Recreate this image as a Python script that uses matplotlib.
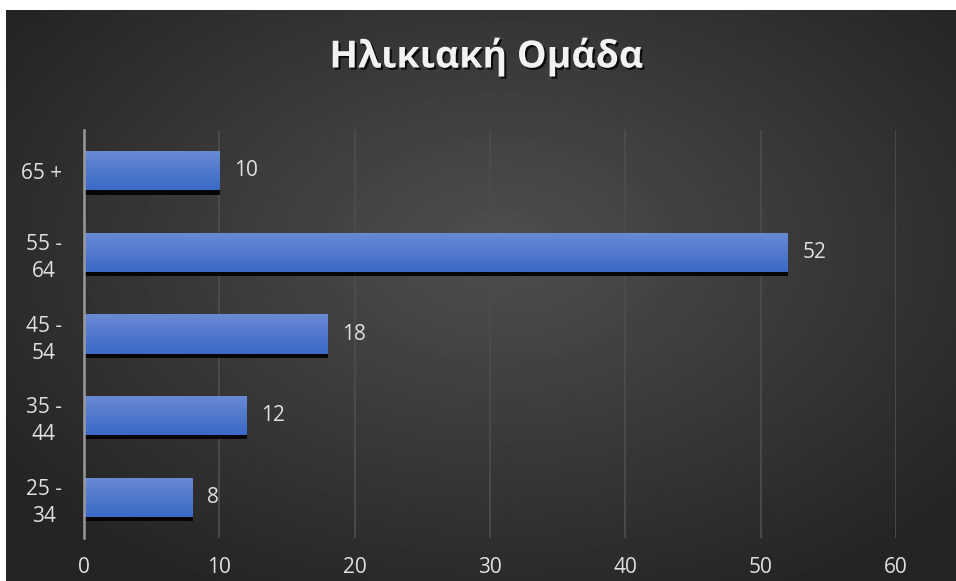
import numpy as np
import matplotlib.pyplot as plt
import matplotlib.patheffects as pe

categories = ['25 -\n34', '35 -\n44', '45 -\n54', '55 -\n64', '65 +']
values = [8, 12, 18, 52, 10]
xticks = [0, 10, 20, 30, 40, 50, 60]

plt.rcParams['font.family'] = ['Open Sans', 'DejaVu Sans']
txt = '#e0e0e0'

fig = plt.figure(figsize=(9.56, 5.81), dpi=100)
fig.patch.set_facecolor('white')

# achtergrond met radiale gradient
bg = fig.add_axes([6/956, 0, 950/956, 571/581])
bg.set_axis_off()
yy, xx = np.mgrid[0:1:300j, 0:1:500j]
r = np.sqrt(((xx - 0.52) / 0.7) ** 2 + ((yy - 0.42) / 0.75) ** 2)
shade = 0.31 - 0.165 * np.clip(r / 0.9, 0, 1)
bg.imshow(shade, cmap='gray', vmin=0, vmax=1, aspect='auto', extent=[0, 1, 0, 1])
bg.set_xlim(0, 1)
bg.set_ylim(0, 1)

ax = fig.add_axes([84/956, 43/581, 812/956, 408/581])
ax.patch.set_alpha(0)
pos = np.arange(len(categories))
bars = ax.barh(pos, values, height=0.48, color='#4a78cc', zorder=3,
               path_effects=[pe.SimplePatchShadow(offset=(0.5, -3), shadow_rgbFace='black', alpha=0.9),
                             pe.Normal()])

# gradient in de staven
grad = np.linspace(0, 1, 100).reshape(-1, 1)
cm = plt.matplotlib.colors.LinearSegmentedColormap.from_list('g', ['#3a69c6', '#6a8ad4'])
for b in bars:
    x0, y0 = b.get_x(), b.get_y()
    w, h = b.get_width(), b.get_height()
    im = ax.imshow(grad, cmap=cm, extent=[x0, x0 + w, y0, y0 + h],
                   aspect='auto', origin='lower', zorder=4)
    im.set_clip_path(b)

for p, v in zip(pos, values):
    ax.text(v + 1.1, p, str(v), va='center', ha='left', color=txt, fontsize=15, zorder=5)

ax.set_xlim(0, 60)
ax.set_ylim(-0.5, len(categories) - 0.5)
ax.set_xticks(xticks)
ax.set_yticks(pos)
ax.set_yticklabels(categories, multialignment='center', linespacing=1.4)
ax.tick_params(axis='both', length=0, colors=txt, labelsize=15)
ax.tick_params(axis='x', pad=14)
ax.tick_params(axis='y', pad=16)
ax.grid(axis='x', color='#4c4c4c', linewidth=1.3, zorder=1)
for s in ['top', 'right', 'bottom']:
    ax.spines[s].set_visible(False)
ax.spines['left'].set_color('#9a9a9a')
ax.spines['left'].set_linewidth(1.8)
ax.spines['left'].set_zorder(6)

fig.text(486/956, 1 - 57/581, 'Ηλικιακή Ομάδα', ha='center', va='center', color='#f2f2f2',
         fontsize=27, fontweight='bold',
         path_effects=[pe.withSimplePatchShadow(offset=(1.5, -1.5), shadow_rgbFace='black', alpha=0.8)])

fig.savefig('out.png', dpi=100)
